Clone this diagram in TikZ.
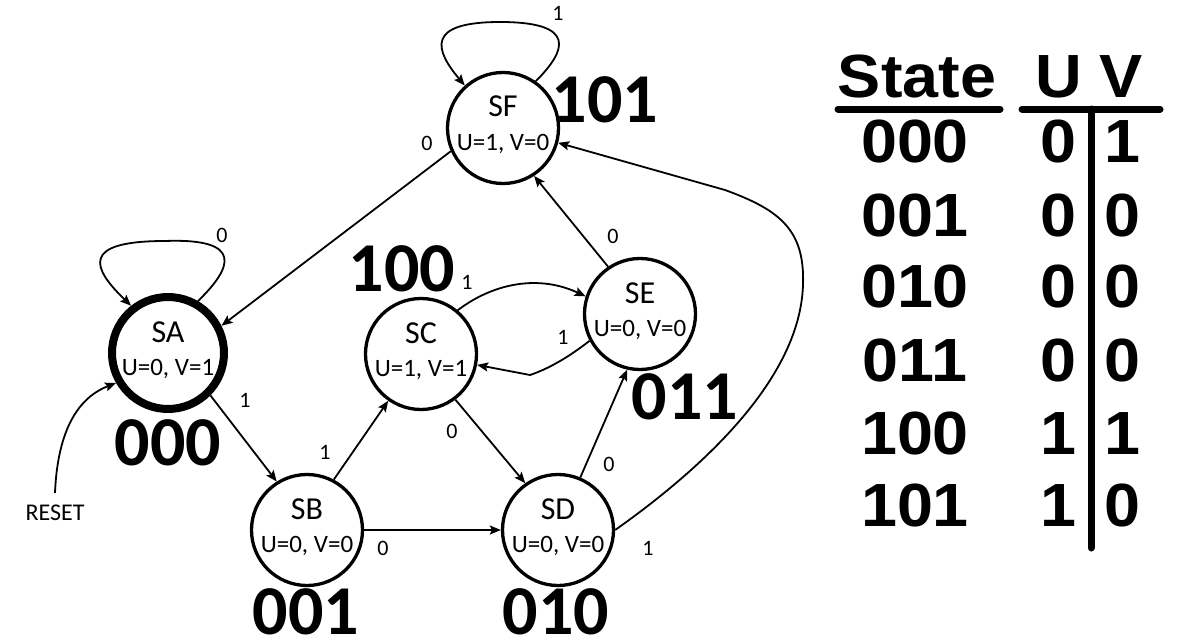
\documentclass[tikz,border=0pt]{standalone}
\usepackage{fontspec}
\setmainfont{Carlito}
\newfontfamily\arialf[FakeStretch=1.06]{Liberation Sans}
\usetikzlibrary{arrows.meta,calc}
\begin{document}
\begin{tikzpicture}[x=1pt,y=-1pt,
 st/.style={circle,draw,line width=3.3pt,minimum size=111pt,inner sep=0pt},
 nm/.style={anchor=base,inner sep=0pt,font=\fontsize{32}{32}\selectfont},
 val/.style={anchor=base,inner sep=0pt,font=\fontsize{25}{25}\selectfont},
 code/.style={anchor=base,inner sep=0pt,font=\fontsize{70}{70}\selectfont\bfseries},
 lbl/.style={inner sep=0pt,font=\fontsize{22}{22}\selectfont},
 ed/.style={line width=1.8pt,-{Stealth[length=11pt,width=9pt,inset=2pt]}},
 tb/.style={anchor=base,inner sep=0pt,font=\arialf\bfseries\fontsize{61}{61}\selectfont},
 rule/.style={line width=7pt,line cap=round}]
\useasboundingbox (0,0) rectangle (1184,642);

% states
\node[st,line width=8pt,minimum size=112pt] (SA) at (168,353) {};
\node[st] (SB) at (307,530) {};
\node[st] (SC) at (421,354) {};
\node[st] (SD) at (558,530) {};
\node[st] (SE) at (640,314) {};
\node[st] (SF) at (503,128) {};

\node[nm] (SAn) at (168,342) {SA}; \node[val] (SAv) at (168,375) {U=0, V=1};
\node[nm] (SBn) at (307,519) {SB}; \node[val] (SBv) at (307,552) {U=0, V=0};
\node[nm] (SCn) at (421,343) {SC}; \node[val] (SCv) at (421,376) {U=1, V=1};
\node[nm] (SDn) at (558,519) {SD}; \node[val] (SDv) at (558,552) {U=0, V=0};
\node[nm] (SEn) at (640,303) {SE}; \node[val] (SEv) at (640,336) {U=0, V=0};
\node[nm] (SFn) at (503,117) {SF}; \node[val] (SFv) at (503,150) {U=1, V=0};

% codes
\node[code] (cA) at (168,465) {000};
\node[code] (cB) at (306,634) {001};
\node[code] (cC) at (402,291) {100};
\node[code] (cD) at (556,634) {010};
\node[code] (cE) at (685,419) {011};
\node[code] (cF) at (605,122) {101};

% edges
\coordinate (TA) at (165,241);
\draw[ed] (SA.60) .. controls (232,268) and (245,238) .. (TA) .. controls (80,241) and (92,268) .. (SA.128);
\coordinate (TF) at (500,22);
\draw[ed] (SF.55) .. controls (567,50) and (577,22) .. (TF) .. controls (425,22) and (435,50) .. (SF.132);
\draw[ed] (SF.204) -- (SA.27);
\draw[ed] (SE.124) -- (SF.303);
\draw[ed] (SC.50) .. controls (495,282) and (540,275) .. (SE.162);
\coordinate (K) at (530,375);
\draw[ed] (SE.208) .. controls (565,360) and (545,370) .. (K) -- (SC.-11);
\draw[ed] (SA.-45) -- (SB.122);
\draw[ed] (SB.62) -- (SC.235);
\draw[ed] (SC.-53) -- (SD.125);
\draw[ed] (SB.east) -- (SD.west);
\draw[ed] (SD.67) -- (SE.257);
\coordinate (P1) at (803,285);
\coordinate (P2) at (725,190);
\draw[ed] (SD.east) .. controls (700,470) and (800,380) .. (P1) .. controls (805,230) and (780,210) .. (P2) -- (SF.-15);

\node[inner sep=0pt,font=\fontsize{24}{24}\selectfont] (R) at (55,513) {RESET};
\draw[ed] ([yshift=12pt]R.north) .. controls (58,420) and (85,395) .. (SA.210);

% edge labels
\node[lbl] (l1) at (222,235) {0};
\node[lbl] (l2) at (558,13) {1};
\node[lbl] (l3) at (427,143) {0};
\node[lbl] (l4) at (613,236) {0};
\node[lbl] (l5) at (467,282) {1};
\node[lbl] (l6) at (563,337) {1};
\node[lbl] (l7) at (245,400) {1};
\node[lbl] (l8) at (325,452) {1};
\node[lbl] (l9) at (452,431) {0};
\node[lbl] (l10) at (383,548) {0};
\node[lbl] (l11) at (609,464) {0};
\node[lbl] (l12) at (648,548) {1};

% table
\node[tb] (hS) at (917,97) {State};
\node[tb] (hU) at (1059,97) {U};
\node[tb] (hV) at (1121,97) {V};
\draw[rule] (838,109) -- (1000,109);
\draw[rule] (1022,109) -- (1160,109);
\draw[rule] (1091,109) -- (1091,548);
\foreach \s/\u/\v/\yb [count=\i] in {000/0/1/162,001/0/0/236,010/0/0/307,011/0/0/381,100/1/1/454,101/1/0/526}{
  \node[tb] (ts\i) at (915,\yb) {\s};
  \node[tb] (tu\i) at (1058,\yb) {\u};
  \node[tb] (tv\i) at (1122,\yb) {\v};
}
\end{tikzpicture}
\end{document}
